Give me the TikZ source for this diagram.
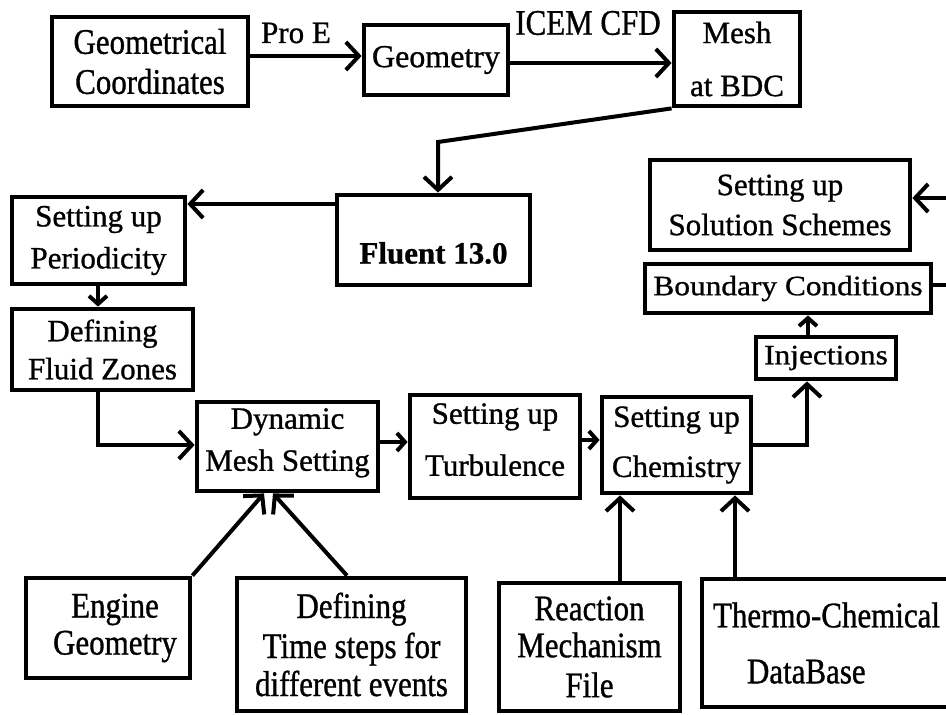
\documentclass[tikz,border=0pt]{standalone}
\usepackage{fontspec}
\setmainfont{Liberation Serif}[FakeBold=0.9]
\newfontfamily\cfam{Liberation Serif}[FakeStretch=0.86,FakeBold=0.9]
\newfontfamily\wfam{Liberation Serif}[FakeStretch=1.12,FakeBold=0.9]
\usetikzlibrary{arrows.meta,calc}
\tikzset{
  box/.style={draw, line width=4.8pt, rectangle, inner sep=0pt, align=center,
    font=\fontsize{31}{37}\selectfont},
  cbox/.style={box, font=\cfam\fontsize{36}{37}\selectfont},
  conn/.style={line width=4pt},
  arr/.style={conn, -{Straight Barb[length=13pt,width=28pt]}},
  sarr/.style={conn, -{Straight Barb[length=8pt,width=18pt]}},
  lbl/.style={inner sep=0pt, font=\fontsize{31}{37}\selectfont},
  clbl/.style={inner sep=0pt, font=\cfam\fontsize{36}{37}\selectfont},
}
\begin{document}
\begin{tikzpicture}[x=1pt,y=-1pt]
\useasboundingbox (0,0) rectangle (946,715);
\clip (0,0) rectangle (946,715);
\fill[white] (0,0) rectangle (946,715);

% top row
\node[cbox, minimum width=196pt, minimum height=89pt] (gc) at (150,61.5) {Geometrical\\[3pt]Coordinates};
\node[box, minimum width=144pt, minimum height=70pt, font=\fontsize{32}{37}\selectfont] (geo) at (436,60) {Geometry};
\node[box, minimum width=126pt, minimum height=94pt] (mesh) at (737,59) {Mesh\\[16pt]at BDC};
\node[lbl] (proe) at (296,33) {Pro E};
\node[clbl] (icem) at (588,23) {ICEM CFD};

% fluent
\node[box, minimum width=193pt, minimum height=90pt,
  label={[lbl, yshift=-13pt]center:{\bfseries Fluent 13.0}}] (fluent) at (433.5,240) {};

% left column
\node[box, minimum width=173pt, minimum height=87pt] (per) at (98.5,240.5) {Setting up\\[5pt]Periodicity};
\node[box, minimum width=181pt, minimum height=81pt] (fluid) at (102.5,349.5) {Defining\\[1pt]Fluid Zones};

% middle row
\node[box, minimum width=181pt, minimum height=89pt] (dms) at (287.5,446.5) {Dynamic\\[5pt]Mesh Setting\rule[-14pt]{0pt}{14pt}};
\node[box, minimum width=170pt, minimum height=103pt] (turb) at (495,446.5) {Setting up\\[15pt]Turbulence\rule[-14pt]{0pt}{14pt}};
\node[box, minimum width=149pt, minimum height=96pt] (chem) at (676.5,445) {Setting up\\[13pt]Chemistry};

% right column
\node[box, minimum width=140pt, minimum height=42pt, font=\wfam\fontsize{28}{30}\selectfont] (inj) at (826,358) {Injections};
\node[box, minimum width=286pt, minimum height=49pt, font=\wfam\fontsize{28}{30}\selectfont] (bound) at (788,288.5) {Boundary Conditions};
\node[box, minimum width=260pt, minimum height=90pt] (sol) at (780,205) {Setting up\\[3pt]Solution Schemes};

% bottom row
\node[cbox, minimum width=164pt, minimum height=100pt] (eng) at (108,628) {\hspace*{14pt}Engine\\\hspace*{14pt}Geometry};
\node[cbox, minimum width=229pt, minimum height=133pt] (time) at (351.5,644.5) {Defining\\[3pt]Time steps for\\[1pt]different events};
\node[cbox, minimum width=181pt, minimum height=128pt] (react) at (589.5,647) {Reaction\\Mechanism\\[3pt]File};
\node[cbox, minimum width=266pt, minimum height=128pt, align=left, text width=266pt] (thermo) at (835,643)
  {\hspace*{11pt}Thermo-Chemical\\[19pt]\hspace*{45pt}DataBase};

% off-page ends
\coordinate (offB) at (960,285);
\coordinate (offS) at (960,198);

% connectors
\draw[arr] (gc.east |- 0,56) -- (geo.west |- 0,56);
\draw[arr] (geo.east |- 0,63) -- (mesh.west |- 0,63);
\draw[arr] (mesh.south west) -- (438,142) -- (438,0 |- fluent.north);
\draw[arr] (fluent.west |- 0,204) -- (per.east |- 0,204);
\draw[sarr] (98,0 |- per.south) -- (98,0 |- fluid.north);
\draw[arr] (98,0 |- fluid.south) |- (dms.west |- 0,445);
\draw[sarr] (dms.east |- 0,442) -- (turb.west |- 0,442);
\draw[sarr] (turb.east |- 0,440) -- (chem.west |- 0,440);
\draw[arr] (chem.east |- 0,445) -| (807,0 |- inj.south);
\draw[sarr] (808,0 |- inj.north) -- (808,0 |- bound.south);
\draw[conn] (bound.east |- 0,285) -- (offB);
\draw[arr] (offS) -- (sol.east |- 0,198);
\draw[arr] (eng.north east) -- (264,0 |- dms.south);
\draw[arr] (347,0 |- time.north) -- (273,0 |- dms.south);
\draw[arr] (620,0 |- react.north) -- (620,0 |- chem.south);
\draw[arr] (735,0 |- thermo.north) -- (735,0 |- chem.south);
\end{tikzpicture}
\end{document}
